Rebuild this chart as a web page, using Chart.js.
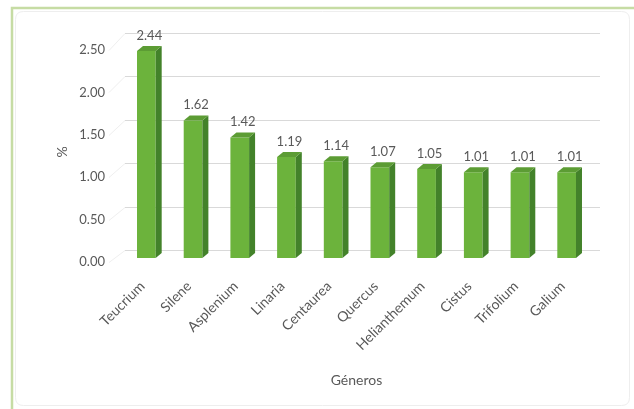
<!DOCTYPE html>
<html>
<head>
<meta charset="utf-8">
<script src="https://cdn.jsdelivr.net/npm/chart.js@4/dist/chart.umd.min.js"></script>
<style>
  html, body { margin: 0; padding: 0; background: #ffffff; }
  #wrap { width: 634px; height: 409px; position: relative; }
</style>
</head>
<body>
<div id="wrap"><canvas id="c" width="634" height="409"></canvas></div>
<script>
const categories = ["Teucrium", "Silene", "Asplenium", "Linaria", "Centaurea", "Quercus", "Helianthemum", "Cistus", "Trifolium", "Galium"];
const values = [2.44, 1.62, 1.42, 1.19, 1.14, 1.07, 1.05, 1.01, 1.01, 1.01];
const yTicks = [0, 0.5, 1.0, 1.5, 2.0, 2.5];
const yTitle = "%";
const xTitle = "Géneros";

const TEXT = "#595959";
const FONT = "Lato, 'Open Sans', sans-serif";
const DEPTH_X = 6, DEPTH_Y = -5;

const frame = {
  id: 'frame',
  beforeDraw(chart) {
    const ctx = chart.ctx;
    ctx.save();
    ctx.fillStyle = '#ffffff';
    ctx.fillRect(0, 0, chart.width, chart.height);
    ctx.strokeStyle = '#eeeeee';
    ctx.lineWidth = 1;
    const x0 = 15.5, y0 = 11.5, x1 = chart.width - 4.5, y1 = chart.height - 3.5, r = 8;
    ctx.beginPath();
    ctx.moveTo(x0 + r, y0);
    ctx.lineTo(x1 - r, y0); ctx.quadraticCurveTo(x1, y0, x1, y0 + r);
    ctx.lineTo(x1, y1 - r); ctx.quadraticCurveTo(x1, y1, x1 - r, y1);
    ctx.lineTo(x0 + r, y1); ctx.quadraticCurveTo(x0, y1, x0, y1 - r);
    ctx.lineTo(x0, y0 + r); ctx.quadraticCurveTo(x0, y0, x0 + r, y0);
    ctx.stroke();
    ctx.strokeStyle = '#c6dca4';
    ctx.lineWidth = 2.5;
    ctx.beginPath();
    ctx.moveTo(12, chart.height);
    ctx.lineTo(12, 8);
    ctx.lineTo(chart.width, 8);
    ctx.stroke();
    ctx.restore();
  }
};

const backGrid = {
  id: 'backGrid',
  beforeDatasetsDraw(chart) {
    const ctx = chart.ctx, y = chart.scales.y, area = chart.chartArea;
    ctx.save();
    yTicks.forEach(v => {
      const py = y.getPixelForValue(v);
      const by = py - 8 - (area.bottom - py) * 0.025;
      ctx.strokeStyle = '#efefef';
      ctx.lineWidth = 1;
      ctx.beginPath();
      ctx.moveTo(area.left - 14, Math.round(py + 4) + 0.5);
      ctx.lineTo(area.left + 2, Math.round(by) + 0.5);
      ctx.stroke();
      ctx.strokeStyle = '#d9d9d9';
      ctx.beginPath();
      ctx.moveTo(area.left + 2, Math.round(by) + 0.5);
      ctx.lineTo(area.right + 10, Math.round(by) + 0.5);
      ctx.stroke();
    });
    ctx.restore();
  }
};

const bar3d = {
  id: 'bar3d',
  afterDatasetsDraw(chart) {
    const ctx = chart.ctx;
    const meta = chart.getDatasetMeta(0);
    ctx.save();
    meta.data.forEach((bar, i) => {
      const p = bar.getProps(['x', 'y', 'base', 'width'], true);
      const l = p.x - p.width / 2, r = p.x + p.width / 2;
      ctx.fillStyle = '#43822a';
      ctx.beginPath();
      ctx.moveTo(r, p.y);
      ctx.lineTo(r + DEPTH_X, p.y + DEPTH_Y);
      ctx.lineTo(r + DEPTH_X, p.base + DEPTH_Y);
      ctx.lineTo(r, p.base);
      ctx.closePath();
      ctx.fill();
      ctx.fillStyle = '#5c9c34';
      ctx.beginPath();
      ctx.moveTo(l, p.y);
      ctx.lineTo(l + DEPTH_X, p.y + DEPTH_Y);
      ctx.lineTo(r + DEPTH_X, p.y + DEPTH_Y);
      ctx.lineTo(r, p.y);
      ctx.closePath();
      ctx.fill();
      ctx.fillStyle = TEXT;
      ctx.font = "13px " + FONT;
      ctx.textAlign = 'center';
      ctx.textBaseline = 'bottom';
      ctx.fillText(values[i].toFixed(2), p.x + DEPTH_X / 2, p.y + DEPTH_Y - 4);
    });
    ctx.restore();
  }
};

const ctx = document.getElementById('c').getContext('2d');
new Chart(ctx, {
  type: 'bar',
  data: {
    labels: categories,
    datasets: [{
      data: values,
      backgroundColor: (c) => {
        const el = c.element;
        if (!el || el.x === undefined || !isFinite(el.x)) return '#6cb33c';
        const w = el.width || 18;
        const g = c.chart.ctx.createLinearGradient(el.x - w / 2, 0, el.x + w / 2, 0);
        g.addColorStop(0, '#76bc44');
        g.addColorStop(0.5, '#6cb43c');
        g.addColorStop(1, '#5ea632');
        return g;
      },
      borderWidth: 0,
      barPercentage: 0.4,
      categoryPercentage: 1.0
    }]
  },
  options: {
    responsive: false,
    animation: false,
    devicePixelRatio: 1,
    layout: { padding: { left: 54, right: 44, top: 46, bottom: 0 } },
    plugins: { legend: { display: false }, tooltip: { enabled: false } },
    scales: {
      x: {
        grid: { display: false, drawTicks: false },
        border: { display: false },
        ticks: {
          color: TEXT, font: { family: FONT, size: 14 },
          minRotation: 45, maxRotation: 45, padding: 20, labelOffset: -4, autoSkip: false
        },
        title: {
          display: true, text: xTitle, color: TEXT,
          font: { family: FONT, size: 14 },
          padding: { top: 0, bottom: 20 }
        },
        afterFit: (s) => { s.height = 151; }
      },
      y: {
        min: 0, max: 2.5,
        grid: { display: false, drawTicks: false },
        border: { display: false },
        ticks: {
          stepSize: 0.5, color: TEXT, font: { family: FONT, size: 13 },
          padding: 18, labelOffset: 4,
          callback: (v) => Number(v).toFixed(2)
        },
        title: {
          display: true, text: yTitle, color: TEXT,
          font: { family: FONT, size: 14 },
          padding: { top: 0, bottom: 0 }
        },
        afterFit: (s) => { s.width = 69; }
      }
    }
  },
  plugins: [frame, backGrid, bar3d]
});
</script>
</body>
</html>
